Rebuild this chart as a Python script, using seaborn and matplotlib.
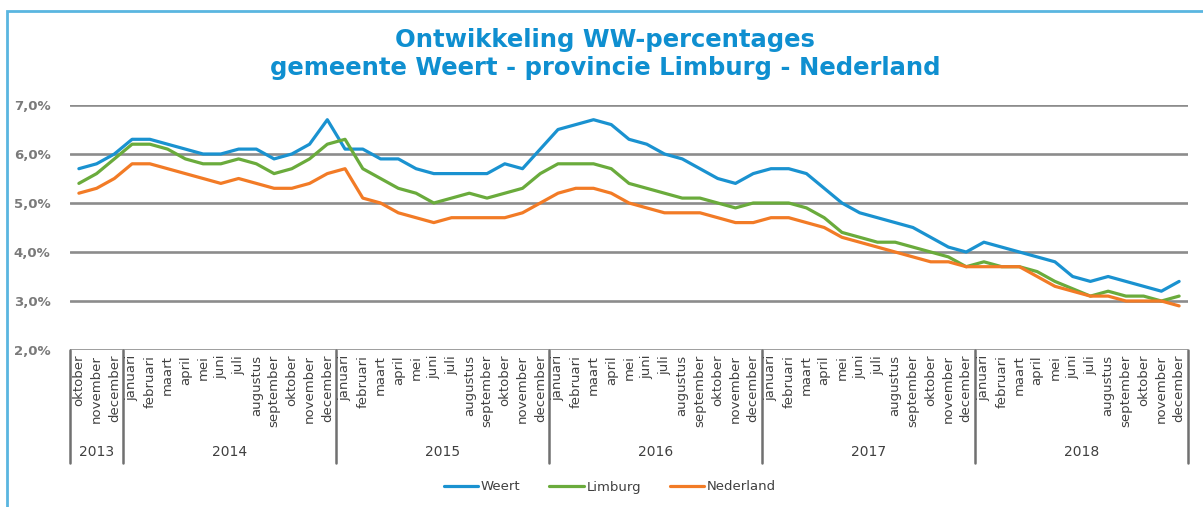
import seaborn as sns
import pandas as pd
import matplotlib.pyplot as plt
from matplotlib.patches import Rectangle

# Maanden okt 2013 t/m dec 2018
month_names = ['januari', 'februari', 'maart', 'april', 'mei', 'juni', 'juli',
               'augustus', 'september', 'oktober', 'november', 'december']
months = ['oktober', 'november', 'december'] + month_names * 5
years = ['2013', '2014', '2015', '2016', '2017', '2018']
year_lengths = [3, 12, 12, 12, 12, 12]

weert = [5.7, 5.8, 6.0, 6.3, 6.3, 6.2, 6.1, 6.0, 6.0, 6.1, 6.1, 5.9, 6.0, 6.2, 6.7,
         6.1, 6.1, 5.9, 5.9, 5.7, 5.6, 5.6, 5.6, 5.6, 5.8, 5.7, 6.1,
         6.5, 6.6, 6.7, 6.6, 6.3, 6.2, 6.0, 5.9, 5.7, 5.5, 5.4, 5.6,
         5.7, 5.7, 5.6, 5.3, 5.0, 4.8, 4.7, 4.6, 4.5, 4.3, 4.1, 4.0,
         4.2, 4.1, 4.0, 3.9, 3.8, 3.5, 3.4, 3.5, 3.4, 3.3, 3.2, 3.4]
limburg = [5.4, 5.6, 5.9, 6.2, 6.2, 6.1, 5.9, 5.8, 5.8, 5.9, 5.8, 5.6, 5.7, 5.9, 6.2,
           6.3, 5.7, 5.5, 5.3, 5.2, 5.0, 5.1, 5.2, 5.1, 5.2, 5.3, 5.6,
           5.8, 5.8, 5.8, 5.7, 5.4, 5.3, 5.2, 5.1, 5.1, 5.0, 4.9, 5.0,
           5.0, 5.0, 4.9, 4.7, 4.4, 4.3, 4.2, 4.2, 4.1, 4.0, 3.9, 3.7,
           3.8, 3.7, 3.7, 3.6, 3.4, 3.25, 3.1, 3.2, 3.1, 3.1, 3.0, 3.1]
nederland = [5.2, 5.3, 5.5, 5.8, 5.8, 5.7, 5.6, 5.5, 5.4, 5.5, 5.4, 5.3, 5.3, 5.4, 5.6,
             5.7, 5.1, 5.0, 4.8, 4.7, 4.6, 4.7, 4.7, 4.7, 4.7, 4.8, 5.0,
             5.2, 5.3, 5.3, 5.2, 5.0, 4.9, 4.8, 4.8, 4.8, 4.7, 4.6, 4.6,
             4.7, 4.7, 4.6, 4.5, 4.3, 4.2, 4.1, 4.0, 3.9, 3.8, 3.8, 3.7,
             3.7, 3.7, 3.7, 3.5, 3.3, 3.2, 3.1, 3.1, 3.0, 3.0, 3.0, 2.9]

series = {'Weert': weert, 'Limburg': limburg, 'Nederland': nederland}
colors = {'Weert': '#1a92d0', 'Limburg': '#6aab3c', 'Nederland': '#f27b26'}

df = pd.DataFrame(series)
df['idx'] = range(len(months))
df_long = df.melt(id_vars='idx', var_name='Gebied', value_name='WW')

sns.set_style('white')
fig = plt.figure(figsize=(12.03, 5.07), dpi=100)
W, H = 1203, 507
ax = fig.add_axes([70 / W, (H - 350) / H, (1188 - 70) / W, (350 - 105) / H])

sns.lineplot(data=df_long, x='idx', y='WW', hue='Gebied', palette=colors,
             linewidth=2.3, ax=ax, legend=False)

ax.set_xlim(-0.5, len(months) - 0.5)
ax.set_ylim(2, 7)
ax.set_yticks([2, 3, 4, 5, 6, 7])
ax.set_yticklabels([f'{v},0%' for v in range(2, 8)], color='#7a7a7a',
                   fontsize=9.5, fontweight='bold')
ax.tick_params(axis='y', length=0, pad=14)
ax.set_xticks([])
ax.set_xlabel('')
ax.set_ylabel('')
for s in ax.spines.values():
    s.set_visible(False)
for v in range(2, 8):
    ax.axhline(v, color='#8c8c8c', lw=1.9, zorder=0)

# maandlabels en jaarindeling
trans = ax.get_xaxis_transform()
for i, m in enumerate(months):
    ax.text(i, -0.02, m, transform=trans, rotation=90, ha='center', va='top',
            fontsize=9.5, color='#404040')
box_bottom = -(463 - 350) / 245
pos = -0.5
ax.plot([pos, pos], [0, box_bottom], transform=trans, color='#707070', lw=1.8, clip_on=False)
for y, n in zip(years, year_lengths):
    ax.text(pos + n / 2, -(452 - 350) / 245, y, transform=trans, ha='center',
            va='center', fontsize=10, color='#404040')
    pos += n
    ax.plot([pos, pos], [0, box_bottom], transform=trans, color='#707070', lw=1.8, clip_on=False)

# legenda
handles = [plt.Line2D([], [], color=colors[k], lw=2.3) for k in series]
fig.legend(handles, list(series), loc='center', bbox_to_anchor=(610 / W, (H - 487) / H),
           ncol=3, frameon=False, fontsize=9.5, handlelength=2.6, handletextpad=0.2,
           columnspacing=2.2, labelcolor='#404040')

fig.text(605 / W, (H - 40) / H, 'Ontwikkeling WW-percentages', ha='center', va='center',
         fontsize=17.5, fontweight='bold', color='#0f8fd0')
fig.text(605 / W, (H - 68) / H, 'gemeente Weert - provincie Limburg - Nederland',
         ha='center', va='center', fontsize=17.5, fontweight='bold', color='#0f8fd0')

fig.patches.append(Rectangle((7 / W, -0.1), 1.1, (H - 11) / H + 0.1, transform=fig.transFigure,
                             fill=False, edgecolor='#5ab6e0', lw=2))

fig.savefig('out.png', dpi=100)
